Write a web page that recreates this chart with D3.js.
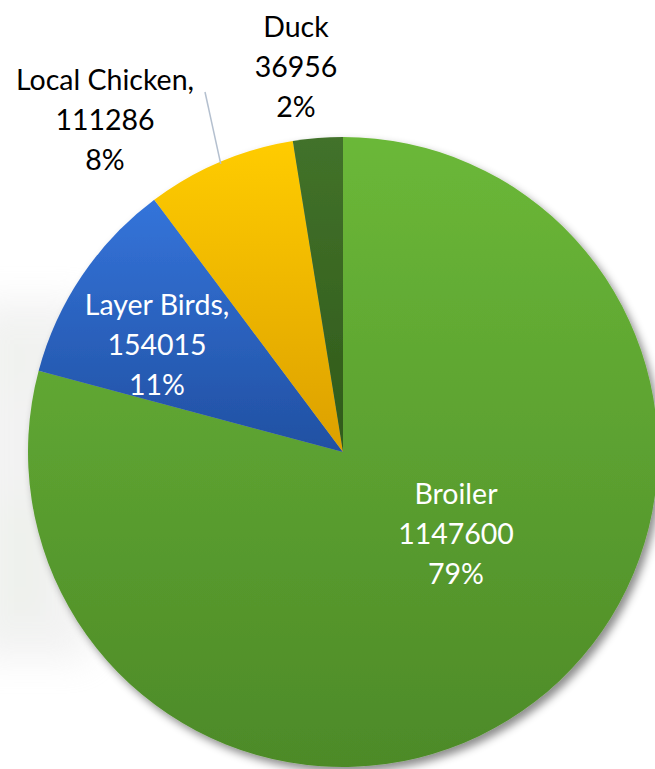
<!DOCTYPE html>
<html>
<head>
<meta charset="utf-8">
<script src="https://cdn.jsdelivr.net/npm/d3@7"></script>
<style>
  html, body { margin: 0; padding: 0; background: #ffffff; }
  svg { display: block; }
</style>
</head>
<body>
<svg id="chart" width="655" height="769"></svg>
<script>
// ---- data ----
const categories = ["Broiler", "Layer Birds", "Local Chicken", "Duck"];
const values = [1147600, 154015, 111286, 36956];
const percentLabels = ["79%", "11%", "8%", "2%"];
const nameSuffix = ["", ",", ",", ""];
const colorsTop = ["#6bb838", "#3474da", "#ffcc00", "#42722a"];
const colorsBottom = ["#4d8a28", "#2150a2", "#dca000", "#305a1a"];
const textColors = ["#ffffff", "#ffffff", "#000000", "#000000"];

// ---- layout ----
const W = 655, H = 769;
const cx = 343, cy = 452, R = 315;
// label anchor (x, baseline of first line) per category
const labelAnchors = [[456, 504], [157, 315], [105, 90], [296, 37]];
const lineGap = 40;

const svg = d3.select("#chart");
const defs = svg.append("defs");

// faint background photo blur at left
const bgBlur = defs.append("filter").attr("id", "bgblur")
  .attr("x", "-80%").attr("y", "-80%").attr("width", "260%").attr("height", "260%");
bgBlur.append("feGaussianBlur").attr("stdDeviation", 18);
const bg = svg.append("g").attr("filter", "url(#bgblur)").attr("opacity", 0.35);
bg.append("rect").attr("x", -30).attr("y", 300).attr("width", 120).attr("height", 360).attr("fill", "#dcdcdc");
bg.append("rect").attr("x", 0).attr("y", 500).attr("width", 40).attr("height", 120).attr("fill", "#cdd8c6");
bg.append("rect").attr("x", 0).attr("y", 330).attr("width", 30).attr("height", 60).attr("fill", "#d3dccc");

// drop shadow
const sh = defs.append("filter").attr("id", "shadow")
  .attr("x", "-10%").attr("y", "-10%").attr("width", "120%").attr("height", "120%");
sh.append("feDropShadow").attr("dx", 4).attr("dy", 5).attr("stdDeviation", 4)
  .attr("flood-color", "#000").attr("flood-opacity", 0.45);

// gradients
categories.forEach((c, i) => {
  const g = defs.append("linearGradient").attr("id", "grad" + i)
    .attr("x1", 0).attr("y1", 0).attr("x2", 0).attr("y2", 1);
  g.append("stop").attr("offset", "0%").attr("stop-color", colorsTop[i]);
  g.append("stop").attr("offset", "100%").attr("stop-color", colorsBottom[i]);
});

const pie = d3.pie().sort(null).value(d => d)(values);
const arc = d3.arc().innerRadius(0).outerRadius(R);

const pieG = svg.append("g").attr("transform", `translate(${cx},${cy})`).attr("filter", "url(#shadow)");
pieG.selectAll("path").data(pie).join("path")
  .attr("d", arc)
  .attr("fill", (d, i) => `url(#grad${i})`);

// leader line for Local Chicken
const lcArc = pie[2];
const edgeAngle = (lcArc.startAngle + lcArc.endAngle) / 2;
const ex = cx + (R - 2) * Math.sin(edgeAngle), ey = cy - (R - 2) * Math.cos(edgeAngle);
svg.append("line")
  .attr("x1", 205).attr("y1", 92)
  .attr("x2", ex).attr("y2", ey)
  .attr("stroke", "#b4c0cf").attr("stroke-width", 1.5);

// labels
const fmt = d3.format("d");
categories.forEach((c, i) => {
  const [lx, ly] = labelAnchors[i];
  const t = svg.append("text")
    .attr("text-anchor", "middle")
    .attr("font-family", "Lato, 'Open Sans', sans-serif")
    .attr("font-size", 28.5)
    .attr("fill", textColors[i]);
  const lines = [c + nameSuffix[i], fmt(values[i]), percentLabels[i]];
  lines.forEach((s, k) => {
    t.append("tspan").attr("x", lx).attr("y", ly + k * lineGap).text(s);
  });
});
</script>
</body>
</html>
